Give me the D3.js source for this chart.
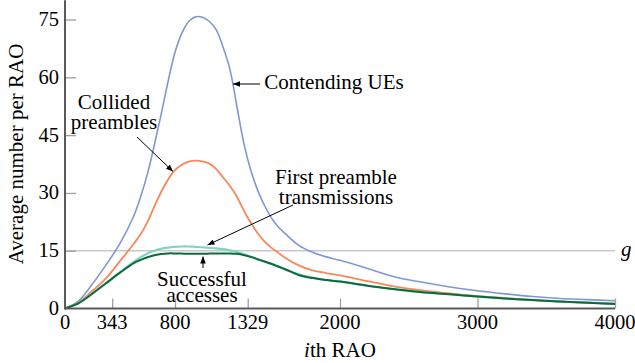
<!DOCTYPE html>
<html>
<head>
<meta charset="utf-8">
<script src="https://cdn.jsdelivr.net/npm/d3@7"></script>
<style>
  html, body { margin: 0; padding: 0; background: #fff; }
  svg { display: block; }
</style>
</head>
<body>
<svg id="chart" width="635" height="363"></svg>
<script>
// RAO index at which each series is sampled
const raoIndex = [0, 100, 200, 300, 400, 500, 550, 600, 650, 700, 750, 800, 850, 900, 950, 1000,
  1050, 1100, 1150, 1200, 1250, 1300, 1350, 1400, 1450, 1500, 1550, 1600, 1700, 1800, 1900, 2000,
  2200, 2400, 2600, 2800, 3000, 3200, 3400, 3600, 3800, 4000];

// Average number per RAO for each series
const contendingUEs = [0, 2.0, 6.4, 11.4, 16.9, 24.0, 29.0, 35.0, 42.5, 50.5, 59.0, 66.5, 71.5, 74.5, 75.7, 75.6,
  74.5, 72.3, 67.8, 62.0, 52.5, 43.0, 36.0, 30.8, 26.8, 23.6, 21.2, 19.5, 16.4, 14.6, 13.4, 12.5,
  10.4, 8.2, 6.8, 5.6, 4.6, 3.8, 3.1, 2.6, 2.3, 2.0];
const collidedPreambles = [0, 1.6, 4.6, 7.9, 12.3, 16.8, 19.3, 22.5, 26.5, 30.3, 33.5, 35.9, 37.3, 38.1, 38.4, 38.2,
  37.6, 36.2, 34.0, 31.8, 29.0, 25.5, 22.3, 19.6, 17.4, 15.8, 14.5, 13.2, 11.2, 9.9, 9.2, 8.6,
  7.1, 5.7, 4.7, 3.9, 3.2, 2.7, 2.2, 1.8, 1.5, 1.3];
const firstTransmissions = [0, 1.4, 3.9, 6.6, 9.4, 12.1, 13.3, 14.3, 15.0, 15.5, 15.8, 16.0, 16.1, 16.1, 16.0, 15.9,
  15.75, 15.6, 15.4, 15.1, 14.7, 14.1, 13.5, 12.8, 12.2, 11.6, 10.9, 10.2, 8.9, 8.0, 7.4, 7.0,
  5.9, 5.0, 4.2, 3.7, 3.1, 2.6, 2.2, 1.8, 1.5, 1.2];
const successfulAccesses = [0, 1.4, 3.9, 6.6, 9.3, 11.8, 12.6, 13.3, 13.8, 14.15, 14.3, 14.3, 14.25, 14.2, 14.2, 14.2,
  14.25, 14.3, 14.3, 14.3, 14.2, 13.9, 13.4, 12.8, 12.2, 11.6, 10.9, 10.2, 8.7, 7.9, 7.4, 7.0,
  5.9, 5.0, 4.2, 3.7, 3.1, 2.6, 2.2, 1.8, 1.5, 1.2];

const xTicks = [343, 800, 1329, 2000, 3000, 4000];
const xTickLabels = ["343", "800", "1329", "2000", "3000", "4000"];
const yTicks = [15, 30, 45, 60, 75];
const thresholdG = 15;

const serif = "'Liberation Serif', 'Times New Roman', Times, 'DejaVu Serif', serif";
const svg = d3.select("#chart").attr("font-family", serif);
const x = d3.scaleLinear().domain([0, 4000]).range([65, 615]);
const y = d3.scaleLinear().domain([0, 80]).range([308.5, 0.3]);

// threshold line g
svg.append("line")
  .attr("x1", x(0)).attr("x2", x(4000))
  .attr("y1", y(thresholdG)).attr("y2", y(thresholdG))
  .attr("stroke", "#c9c9c9").attr("stroke-width", 1.5);
svg.append("text")
  .attr("x", 621).attr("y", y(thresholdG) + 5)
  .attr("font-size", 21).attr("font-style", "italic")
  .text("g");

// inward tick marks
const xAxis = d3.axisBottom(x).tickValues(xTicks).tickSize(-10).tickFormat("");
const yAxis = d3.axisLeft(y).tickValues(yTicks).tickSize(-11).tickFormat("");
const gx = svg.append("g").attr("transform", `translate(0,${y(0)})`).call(xAxis);
const gy = svg.append("g").attr("transform", `translate(${x(0)},0)`).call(yAxis);
[gx, gy].forEach(g => {
  g.select(".domain").remove();
  g.selectAll(".tick line").attr("stroke", "#a0a0a0").attr("stroke-width", 1.3);
});

// series
const series = [
  { values: contendingUEs, color: "#7f97d3", width: 1.6 },
  { values: collidedPreambles, color: "#f8875b", width: 1.8 },
  { values: firstTransmissions, color: "#82d4c2", width: 2.2 },
  { values: successfulAccesses, color: "#0d6a3a", width: 2.0 }
];
const line = d3.line()
  .x((d, i) => x(raoIndex[i]))
  .y(d => y(d))
  .curve(d3.curveCatmullRom.alpha(0.5));
series.forEach(s => {
  svg.append("path")
    .attr("d", line(s.values))
    .attr("fill", "none")
    .attr("stroke", s.color)
    .attr("stroke-width", s.width)
    .attr("stroke-linejoin", "round");
});

// axis lines
svg.append("line")
  .attr("x1", x(0)).attr("x2", x(4000)).attr("y1", y(0)).attr("y2", y(0))
  .attr("stroke", "#5a5a5a").attr("stroke-width", 2);
svg.append("line")
  .attr("x1", x(0)).attr("x2", x(0)).attr("y1", y(0) + 1).attr("y2", y(80))
  .attr("stroke", "#5a5a5a").attr("stroke-width", 2);

// tick labels
svg.append("g").selectAll("text")
  .data([0].concat(xTicks))
  .join("text")
  .attr("x", d => x(d)).attr("y", 329)
  .attr("text-anchor", "middle").attr("font-size", 20.5)
  .text((d, i) => i === 0 ? "0" : xTickLabels[i - 1]);
svg.append("g").selectAll("text")
  .data([0].concat(yTicks))
  .join("text")
  .attr("x", 59).attr("y", d => y(d) + 6.5)
  .attr("text-anchor", "end").attr("font-size", 20.5)
  .text(d => d);

// axis titles
const xt = svg.append("text")
  .attr("x", 340).attr("y", 357)
  .attr("text-anchor", "middle").attr("font-size", 21);
xt.append("tspan").attr("font-style", "italic").text("i");
xt.append("tspan").text("th RAO");
svg.append("text")
  .attr("transform", "translate(23,154) rotate(-90)")
  .attr("text-anchor", "middle").attr("font-size", 21)
  .text("Average number per RAO");

// annotations
svg.append("defs").append("marker")
  .attr("id", "head").attr("viewBox", "0 0 10 8")
  .attr("refX", 10).attr("refY", 4)
  .attr("markerWidth", 7).attr("markerHeight", 5.6)
  .attr("markerUnits", "userSpaceOnUse")
  .attr("orient", "auto")
  .append("path").attr("d", "M0,0 L10,4 L0,8 Z").attr("fill", "#000");

function arrow(x1, y1, x2, y2) {
  svg.append("line")
    .attr("x1", x1).attr("y1", y1).attr("x2", x2).attr("y2", y2)
    .attr("stroke", "#000").attr("stroke-width", 1)
    .attr("marker-end", "url(#head)");
}
function label(lines, cx, baseline, gap) {
  const t = svg.append("text").attr("text-anchor", "middle").attr("font-size", 21);
  lines.forEach((s, i) => t.append("tspan").attr("x", cx).attr("y", baseline + i * gap).text(s));
}

label(["Contending UEs"], 334, 89, 0);
arrow(260, 84, 233, 84);

label(["Collided", "preambles"], 114, 109, 20);
arrow(137, 137, 173, 171.5);

label(["First preamble", "transmissions"], 336, 184, 19.5);
arrow(293, 205, 207.5, 245);

label(["Successful", "accesses"], 202, 285.5, 16);
arrow(203, 268, 203, 256.5);
</script>
</body>
</html>
